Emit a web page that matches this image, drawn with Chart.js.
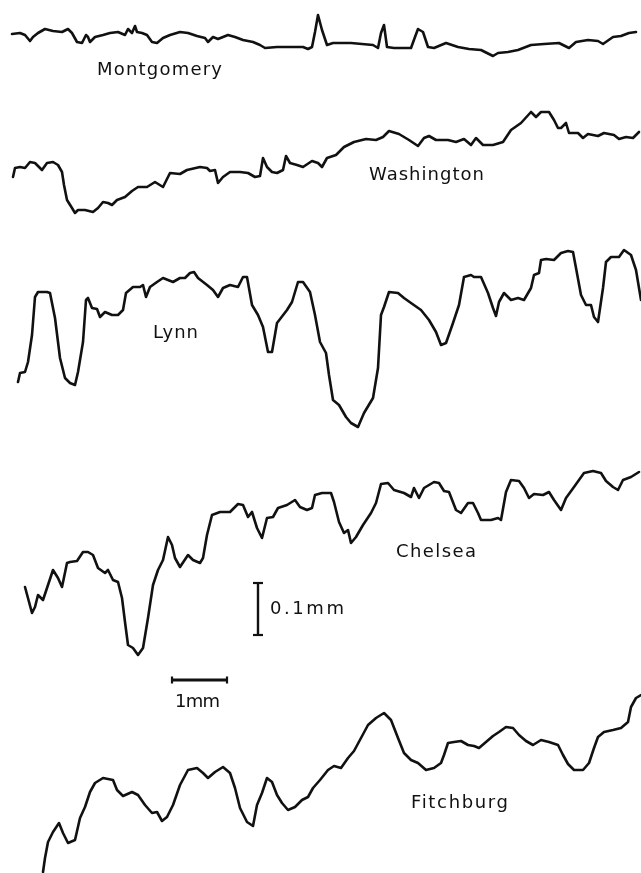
<!DOCTYPE html>
<html>
<head>
<meta charset="utf-8">
<script src="https://cdn.jsdelivr.net/npm/chart.js@4"></script>
<style>
  body { margin: 0; background: #fff; }
  canvas { display: block; }
</style>
</head>
<body>
<canvas id="profiles" width="641" height="873"></canvas>
<script>
// profile traces (page units, y grows downward)
const montgomeryX = [12,20,25,30,33,38,45,53,62,68,72,77,82,86,88,90,95,103,110,118,125,128,132,135,137,142,147,152,157,163,170,180,188,197,205,208,213,218,228,235,243,253,260,265,277,290,303,308,312,315,318,322,327,333,351,373,378,381,384,387,394,411,415,418,423,428,434,446,458,469,481,493,498,508,518,531,544,559,569,576,588,598,603,613,621,629,636];
const montgomeryY = [34,33,35,41,37,33,29,31,32,29,33,42,43,35,37,42,37,35,33,32,35,29,33,26,32,33,35,42,43,38,35,32,33,36,38,42,37,39,35,37,40,42,45,48,47,47,47,49,47,32,15,30,45,43,43,45,48,33,25,47,48,48,37,29,32,47,48,43,47,49,50,56,53,52,50,45,44,43,48,42,40,41,44,37,36,33,32];

const washingtonX = [13,15,20,25,30,35,42,47,53,58,62,64,67,72,75,78,85,93,98,103,108,112,117,125,132,138,147,155,163,170,180,187,200,207,210,215,218,223,230,240,248,255,260,263,267,272,277,283,286,290,297,303,312,318,322,327,336,344,354,366,376,383,389,399,409,418,424,429,436,448,456,464,471,476,483,493,503,511,521,531,536,541,549,554,558,561,566,569,578,583,588,598,604,614,619,626,633,639];
const washingtonY = [177,168,167,168,162,163,170,163,162,165,172,185,200,208,213,210,210,212,208,202,203,205,200,197,191,187,187,182,187,173,174,170,167,168,171,170,183,177,172,172,173,177,176,158,167,172,173,170,156,163,165,167,161,163,167,158,155,147,142,139,140,137,131,134,140,146,138,136,140,140,142,139,145,138,145,145,142,130,123,112,117,112,112,120,128,128,123,133,133,138,134,136,133,135,139,137,138,132];

const lynnX = [18,20,25,28,32,35,38,47,50,55,60,65,70,75,78,83,86,88,92,97,100,105,112,118,123,126,133,140,143,146,150,157,163,168,173,180,185,190,194,198,207,213,218,223,230,238,243,247,252,258,263,268,272,277,287,292,298,303,310,315,320,326,329,333,339,346,351,358,364,373,378,381,384,389,398,404,411,421,429,436,441,446,453,459,464,471,474,481,488,493,496,499,504,511,518,524,531,534,539,541,546,554,561,568,573,576,581,586,591,594,598,603,606,611,619,624,631,636,641];
const lynnY = [382,373,372,362,335,297,292,292,293,318,358,378,383,385,372,342,300,298,308,309,317,312,315,315,310,293,287,287,285,297,287,282,278,280,282,278,278,273,272,278,285,290,297,288,285,287,277,277,305,315,327,352,352,323,310,302,282,282,292,315,342,353,375,400,405,417,423,427,413,398,368,315,307,292,293,298,303,310,320,332,345,343,323,305,277,275,277,277,293,308,316,302,293,300,298,300,288,275,273,260,259,260,253,251,252,268,295,305,305,317,322,288,262,257,257,250,255,270,300];

const chelseaX = [25,32,35,38,43,47,53,58,62,67,70,77,83,88,93,98,105,108,113,118,122,125,128,133,138,143,148,153,158,163,168,172,175,180,188,193,200,203,207,212,220,230,238,243,248,252,257,262,267,273,278,287,295,300,307,312,315,322,331,334,339,344,348,351,356,363,371,376,381,388,394,404,411,414,419,424,434,439,444,449,456,461,468,473,478,481,491,498,501,506,511,519,524,529,534,543,549,554,561,566,574,584,593,601,606,613,618,623,631,639];
const chelseaY = [587,613,607,595,600,588,570,578,587,563,562,561,552,552,555,568,573,570,580,582,598,622,645,648,655,648,618,585,570,560,537,545,558,567,555,560,563,558,535,515,512,512,504,505,517,512,528,538,518,517,508,505,500,507,510,508,495,493,493,502,522,533,530,543,537,525,513,503,484,483,490,493,497,488,498,488,482,483,491,492,510,513,503,503,513,520,520,518,520,492,480,481,488,498,494,495,492,500,510,498,487,473,471,473,481,487,490,480,477,472];

const fitchburgX = [43,45,48,53,59,63,68,75,80,85,90,95,103,113,117,123,132,138,145,152,157,162,167,173,180,188,197,203,208,215,223,230,235,240,247,253,257,262,267,272,277,282,288,295,302,308,313,320,328,334,341,348,354,361,368,376,384,391,398,404,411,418,426,434,441,444,448,454,461,468,474,479,486,493,499,506,513,519,526,533,541,549,558,563,568,574,583,589,594,598,604,613,621,628,631,636,641];
const fitchburgY = [872,858,842,832,823,833,843,840,818,807,792,783,778,780,790,796,792,795,805,813,812,821,817,805,785,770,768,773,778,772,767,773,788,808,822,826,805,793,778,782,795,803,810,807,800,797,788,780,770,766,768,758,751,738,725,718,713,720,738,753,760,763,770,768,763,755,743,742,741,745,746,748,742,736,732,727,728,735,741,745,740,742,745,755,764,770,770,763,748,737,732,730,728,722,707,698,695];

// scale bars: 0.1 mm vertical, 1 mm horizontal
const barVertX = [258, 258];
const barVertY = [583, 635];
const barHorizX = [172, 227];
const barHorizY = [680, 680];

const traceNames = ['Montgomery', 'Washington', 'Lynn', 'Chelsea', 'Fitchburg'];

const toPoints = (xs, ys) => xs.map((x, i) => ({ x: x, y: ys[i] }));

const traces = [
  [montgomeryX, montgomeryY],
  [washingtonX, washingtonY],
  [lynnX, lynnY],
  [chelseaX, chelseaY],
  [fitchburgX, fitchburgY]
];

const datasets = traces.map((t, i) => ({
  label: traceNames[i],
  data: toPoints(t[0], t[1]),
  showLine: true,
  borderColor: '#111',
  borderWidth: 2.6,
  pointRadius: 0,
  tension: 0,
  borderJoinStyle: 'round',
  borderCapStyle: 'round'
}));

datasets.push({
  label: 'bar v',
  data: toPoints(barVertX, barVertY),
  showLine: true, borderColor: '#111', borderWidth: 2.4, pointRadius: 0
});
datasets.push({
  label: 'bar h',
  data: toPoints(barHorizX, barHorizY),
  showLine: true, borderColor: '#111', borderWidth: 2.8, pointRadius: 0
});

// labels and end caps drawn against the chart's scales
const annotations = {
  id: 'annotations',
  afterDatasetsDraw(chart) {
    const ctx = chart.ctx;
    const sx = chart.scales.x, sy = chart.scales.y;
    const px = v => sx.getPixelForValue(v);
    const py = v => sy.getPixelForValue(v);

    ctx.save();
    ctx.strokeStyle = '#111';
    ctx.lineWidth = 2.2;
    // caps on the vertical bar
    [barVertY[0], barVertY[1]].forEach(y => {
      ctx.beginPath();
      ctx.moveTo(px(barVertX[0] - 5), py(y));
      ctx.lineTo(px(barVertX[0] + 5), py(y));
      ctx.stroke();
    });
    // ends of the horizontal bar
    [barHorizX[0], barHorizX[1]].forEach(x => {
      ctx.beginPath();
      ctx.moveTo(px(x), py(barHorizY[0] - 3.5));
      ctx.lineTo(px(x), py(barHorizY[0] + 3.5));
      ctx.stroke();
    });

    const labels = [
      { text: 'Montgomery', x: 97, y: 70, w: 125 },
      { text: 'Washington', x: 369, y: 175, w: 115 },
      { text: 'Lynn', x: 153, y: 333, w: 45 },
      { text: 'Chelsea', x: 396, y: 552, w: 80 },
      { text: 'Fitchburg', x: 411, y: 803, w: 97 },
      { text: '0.1mm', x: 270, y: 609, w: 74 },
      { text: '1mm', x: 175, y: 702, w: 45 }
    ];
    ctx.fillStyle = '#111';
    ctx.textBaseline = 'middle';
    ctx.textAlign = 'left';
    ctx.font = '18px "DejaVu Sans", sans-serif';
    labels.forEach(l => {
      ctx.letterSpacing = '0px';
      const natural = ctx.measureText(l.text).width;
      const extra = (l.w - natural) / Math.max(1, l.text.length - 1);
      ctx.letterSpacing = extra.toFixed(2) + 'px';
      ctx.fillText(l.text, px(l.x), py(l.y));
    });
    ctx.restore();
  }
};

new Chart(document.getElementById('profiles').getContext('2d'), {
  type: 'scatter',
  data: { datasets: datasets },
  options: {
    responsive: false,
    animation: false,
    layout: { padding: 0 },
    plugins: { legend: { display: false }, tooltip: { enabled: false } },
    scales: {
      x: { type: 'linear', min: 0, max: 641, display: false },
      y: { type: 'linear', min: 0, max: 873, reverse: true, display: false }
    }
  },
  plugins: [annotations]
});
</script>
</body>
</html>
